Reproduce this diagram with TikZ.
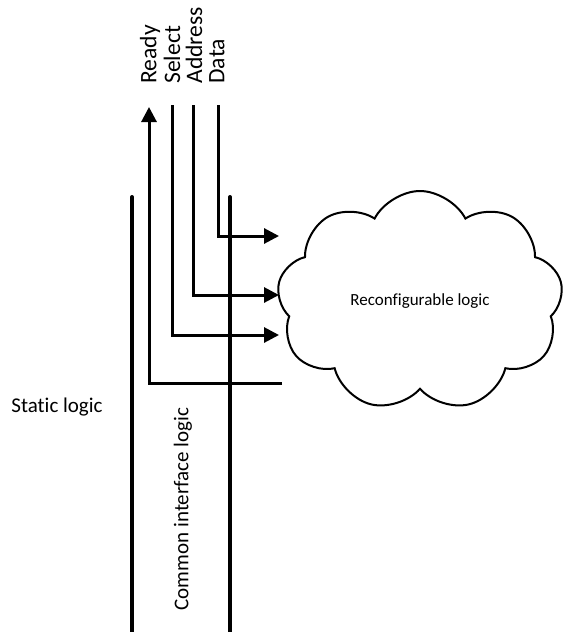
\documentclass[tikz,border=0pt]{standalone}
\usepackage{fontspec}
\setmainfont{Carlito}[Ligatures=NoCommon]
\usetikzlibrary{shapes.symbols, arrows.meta, positioning}

\begin{document}
\begin{tikzpicture}[
    x=0.5pt, y=-0.5pt,
    wall/.style={line width=2pt, line cap=round},
    arrow/.style={line width=1.5pt, -{Triangle[length=7.5pt, width=7.5pt]}},
    lbl/.style={rotate=90, anchor=west, inner sep=0pt, font=\fontsize{11.8}{13}\selectfont},
    txt/.style={inner sep=0pt, font=\fontsize{10.5}{12}\selectfont},
    cloudbox/.style={draw, cloud, cloud puffs=9, cloud puff arc=125, aspect=1.3, line width=1pt, minimum width=143pt, minimum height=110pt, font=\fontsize{8.5}{10}\selectfont}
]
\useasboundingbox (0,0) rectangle (563,632);

\node (recon) [cloudbox] at (420,301) {Reconfigurable logic};

\node (ready) [lbl] at (150,84) {Ready};
\node (select) [lbl] at (172,84) {Select};
\node (address) [lbl] at (194,84) {Address};
\node (data) [lbl] at (217,84) {Data};

\node (static) [txt] at (57,407) {Static logic};
\node (common) [txt, rotate=90] at (183,509) {Common interface logic};

\coordinate (leftTop) at (132,197);
\coordinate (leftBot) at (132,632);
\coordinate (rightTop) at (230,197);
\coordinate (rightBot) at (230,632);

\coordinate (rdyTop) at (149,107);
\coordinate (rdyIn) at (282,383);
\coordinate (selTop) at (172,105);
\coordinate (selIn) at (279,335);
\coordinate (adrTop) at (193,105);
\coordinate (adrIn) at (279,295);
\coordinate (datTop) at (218,105);
\coordinate (datIn) at (279,236);

\draw [wall] (leftTop) -- (leftBot);
\draw [wall] (rightTop) -- (rightBot);

\draw [arrow] (rdyIn) -| (rdyTop);
\draw [arrow] (selTop) |- (selIn);
\draw [arrow] (adrTop) |- (adrIn);
\draw [arrow] (datTop) |- (datIn);
\end{tikzpicture}
\end{document}
